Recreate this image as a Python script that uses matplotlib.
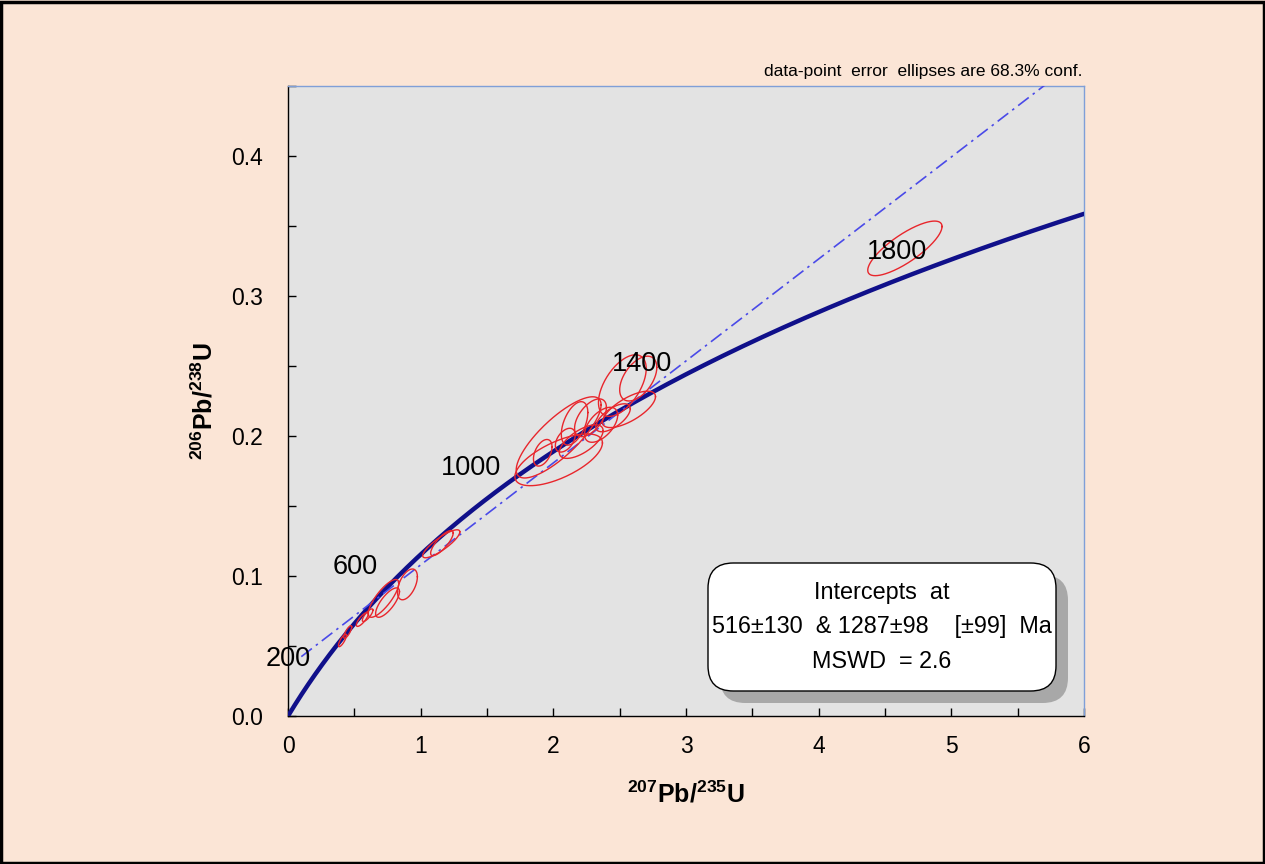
import matplotlib.pyplot as plt
import numpy as np
from matplotlib.patches import FancyBboxPatch, Rectangle

plt.rcParams['font.family'] = ['Liberation Sans', 'DejaVu Sans']
plt.rcParams['mathtext.fontset'] = 'custom'
plt.rcParams['mathtext.rm'] = 'Liberation Sans'
plt.rcParams['mathtext.bf'] = 'Liberation Sans:bold'

# decay constants (per year)
L238 = 1.55125e-10
L235 = 9.8485e-10

# analyses: 207Pb/235U, 1s, 206Pb/238U, 1s, error correlation
pb207_u235 = [0.41, 0.45, 0.56, 0.60, 0.72, 0.75, 0.90, 1.155, 1.16,
              2.04, 2.04, 1.92, 2.09, 2.21, 2.16, 2.28, 2.36, 2.45, 2.57,
              2.52, 2.64, 4.65]
sig_x = [0.030, 0.030, 0.045, 0.040, 0.115, 0.090, 0.075, 0.140, 0.085,
         0.320, 0.330, 0.070, 0.075, 0.165, 0.100, 0.120, 0.125, 0.130, 0.200,
         0.180, 0.140, 0.280]
pb206_u238 = [0.054, 0.060, 0.069, 0.072, 0.084, 0.081, 0.094, 0.123, 0.1235,
              0.199, 0.183, 0.188, 0.197, 0.196, 0.209, 0.213, 0.208, 0.213, 0.219,
              0.236, 0.241, 0.334]
sig_y = [0.0045, 0.0045, 0.0050, 0.0045, 0.0135, 0.0105, 0.0110, 0.0100, 0.0090,
         0.0290, 0.0185, 0.0095, 0.0085, 0.0120, 0.0155, 0.0135, 0.0125, 0.0100, 0.0130,
         0.0220, 0.0160, 0.0195]
rho = [0.80, 0.80, 0.80, 0.80, 0.80, 0.75, 0.50, 0.85, 0.80,
       0.80, 0.65, 0.45, 0.45, 0.65, 0.50, 0.55, 0.55, 0.65, 0.70,
       0.55, 0.50, 0.80]

# concordia age labels (Ma)
age_labels = [200, 600, 1000, 1400, 1800]

# discordia intercepts (Ma)
lower_age = 516
upper_age = 1287

result_lines = ['Intercepts  at',
                '516\u00b1130  & 1287\u00b198    [\u00b199]  Ma',
                'MSWD  = 2.6']


def concordia(t_ma):
    t = np.asarray(t_ma) * 1e6
    return np.exp(L235 * t) - 1, np.exp(L238 * t) - 1


fig = plt.figure(figsize=(12.65, 8.64), dpi=100)
fig.patch.set_facecolor('#FBE5D6')
fig.patches.append(Rectangle((0.001, 0.001), 0.998, 0.997, transform=fig.transFigure,
                             fill=False, edgecolor='black', linewidth=2.5))

ax = fig.add_axes([0.2277, 0.1713, 0.6292, 0.7292])
ax.set_facecolor('#E3E3E3')
ax.set_xlim(0, 6)
ax.set_ylim(0, 0.45)

# concordia curve
t_max = np.log(7) / L235 / 1e6
tt = np.linspace(0, t_max, 400)
cx, cy = concordia(tt)
ax.plot(cx, cy, color='#10108A', linewidth=3.2, zorder=3, solid_capstyle='round')

# discordia line through the two intercepts
x1, y1 = concordia(lower_age)
x2, y2 = concordia(upper_age)
slope = (y2 - y1) / (x2 - x1)
dx = np.array([0.1, 6.0])
dy = y1 + slope * (dx - x1)
ax.plot(dx, dy, color='#4A4AE8', linewidth=1.2, linestyle=(0, (8, 3, 1.5, 3)), zorder=3)

# error ellipses from the covariance of each analysis
t = np.linspace(0, 2 * np.pi, 200)
for x, sx, y, sy, r in zip(pb207_u235, sig_x, pb206_u238, sig_y, rho):
    cov = np.array([[sx ** 2, r * sx * sy], [r * sx * sy, sy ** 2]])
    L = np.linalg.cholesky(cov)
    pts = L @ np.vstack([np.cos(t), np.sin(t)])
    ax.plot(x + pts[0], y + pts[1], color='#E8262C', linewidth=1.0, zorder=4)

# age labels next to the concordia
for a in age_labels:
    ax_, ay_ = concordia(a)
    lx = max(ax_ - 0.30, 0.0)
    ax.text(lx, ay_ + 0.009, str(a), fontsize=19.5, ha='center', va='center',
            color='black', zorder=5)

# axes styling
for side in ['top', 'right']:
    ax.spines[side].set_color('#7F9FD8')
    ax.spines[side].set_linewidth(1.0)
for side in ['left', 'bottom']:
    ax.spines[side].set_color('black')
    ax.spines[side].set_linewidth(1.0)

ax.set_xticks(np.arange(0, 6.01, 1))
ax.set_xticks(np.arange(0, 6.01, 0.5), minor=True)
ax.set_yticks(np.arange(0, 0.41, 0.1))
ax.set_yticks(np.arange(0, 0.451, 0.05), minor=True)
ax.set_xticklabels([f'{v:g}' for v in np.arange(0, 6.01, 1)])
ax.set_yticklabels([f'{v:.1f}' for v in np.arange(0, 0.41, 0.1)])
ax.tick_params(which='both', direction='in', length=6, width=1, color='black',
               top=False, right=False, labelsize=16.5)
ax.tick_params(axis='x', pad=14)
ax.tick_params(axis='y', pad=18)

ax.set_xlabel(r'$\mathregular{^{207}}$Pb/$\mathregular{^{235}}$U', fontsize=18,
              fontweight='bold', labelpad=16)
ax.set_ylabel(r'$\mathregular{^{206}}$Pb/$\mathregular{^{238}}$U', fontsize=18,
              fontweight='bold')
ax.yaxis.set_label_coords(-0.088, 0.5)

fig.text(0.8557, 0.9085, 'data-point  error  ellipses are 68.3% conf.', fontsize=12.5,
         ha='right', va='bottom')

# result box with drop shadow
bx0, by0, bw, bh = 708 / 1265, 1 - 691 / 864, 348 / 1265, 128 / 864
shadow = FancyBboxPatch((bx0 + 12 / 1265, by0 - 12 / 864), bw, bh,
                        boxstyle='round,pad=0,rounding_size=0.02',
                        transform=fig.transFigure, facecolor='#A8A8A8',
                        edgecolor='none', zorder=6, mutation_aspect=1.46)
box = FancyBboxPatch((bx0, by0), bw, bh,
                     boxstyle='round,pad=0,rounding_size=0.02',
                     transform=fig.transFigure, facecolor='white',
                     edgecolor='black', linewidth=1.0, zorder=7, mutation_aspect=1.46)
fig.patches.extend([shadow, box])
for i, line in enumerate(result_lines):
    fig.text(bx0 + bw / 2, 1 - (592 + 34.5 * i) / 864, line, fontsize=16.8,
             ha='center', va='center', zorder=8)

fig.savefig('out.png', dpi=100, facecolor=fig.get_facecolor())
